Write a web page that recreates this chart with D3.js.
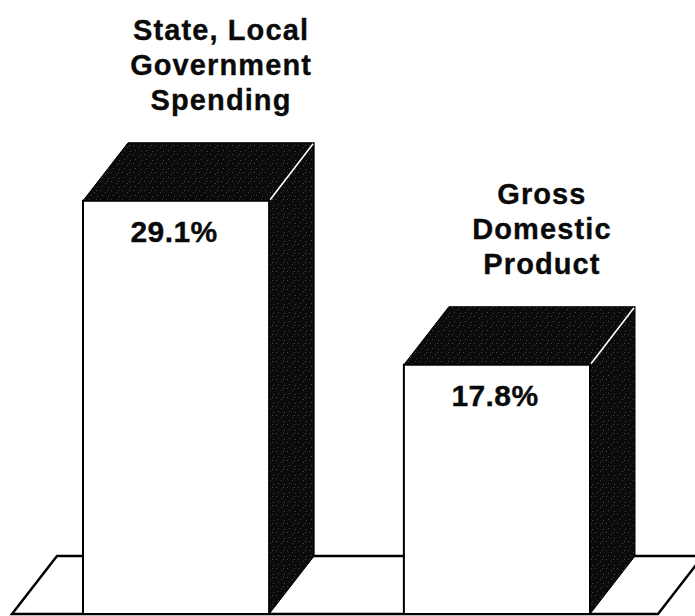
<!DOCTYPE html>
<html>
<head>
<meta charset="utf-8">
<script src="https://cdn.jsdelivr.net/npm/d3@7"></script>
<style>
  html, body { margin: 0; padding: 0; background: #fff; }
  svg { display: block; }
  text { font-family: "Liberation Sans", Arial, Helvetica, sans-serif; font-weight: bold; fill: #0a0a0a; stroke: #0a0a0a; stroke-width: 0.35px; }
</style>
</head>
<body>
<script>
// ---- data ----
const categories = ["State, Local Government Spending", "Gross Domestic Product"];
const categoryLines = [["State, Local", "Government", "Spending"], ["Gross", "Domestic", "Product"]];
const values = [29.1, 17.8];
const valueLabels = ["29.1%", "17.8%"];

// ---- layout ----
const W = 695, H = 616;
const floorFront = 614;          // front edge of the floor
const depthX = 45, depthY = -58; // 3D extrusion offset

const svg = d3.select("body").append("svg").attr("width", W).attr("height", H);

// speckle texture for dark faces
const defs = svg.append("defs");
const pat = defs.append("pattern").attr("id", "speck").attr("patternUnits", "userSpaceOnUse")
  .attr("width", 11).attr("height", 9);
pat.append("rect").attr("width", 11).attr("height", 9).attr("fill", "#0b0b0b");
[[1,1],[6,3],[3,6],[9,7],[8,1]].forEach(([cx, cy]) =>
  pat.append("rect").attr("x", cx).attr("y", cy).attr("width", 1).attr("height", 1).attr("fill", "#6a6a6a").attr("opacity", 0.6));

const x = d3.scaleBand().domain(categories).range([83, 590]).paddingInner(0.42).paddingOuter(0);
const y = d3.scaleLinear().domain([0, 30]).range([623, 623 - 30 * 14.51]);
const bw = x.bandwidth();

// floor
const [x0, x1] = x.range();
const floorPts = [
  [x0 - 71, floorFront], [x0 - 71 + depthX, floorFront + depthY],
  [x1 + 68 + depthX, floorFront + depthY], [x1 + 68, floorFront]
];
svg.append("polygon").attr("points", floorPts.map(p => p.join(",")).join(" "))
  .attr("fill", "#fff").attr("stroke", "#000").attr("stroke-width", 2.5).attr("stroke-linejoin", "miter");

const data = categories.map((c, i) => ({ c, v: values[i], lines: categoryLines[i], lab: valueLabels[i] }));
const g = svg.selectAll("g.bar").data(data).join("g").attr("class", "bar");

// side face
g.append("polygon").attr("points", d => {
  const xl = x(d.c), yt = y(d.v);
  return [[xl + bw, yt], [xl + bw + depthX, yt + depthY], [xl + bw + depthX, floorFront + depthY], [xl + bw, floorFront]]
    .map(p => p.join(",")).join(" ");
}).attr("fill", "url(#speck)").attr("stroke", "#000").attr("stroke-width", 1);

// top face
g.append("polygon").attr("points", d => {
  const xl = x(d.c), yt = y(d.v);
  return [[xl, yt], [xl + depthX, yt + depthY], [xl + bw + depthX, yt + depthY], [xl + bw, yt]]
    .map(p => p.join(",")).join(" ");
}).attr("fill", "url(#speck)").attr("stroke", "#000").attr("stroke-width", 1);

// white edge between top and side
g.append("line")
  .attr("x1", d => x(d.c) + bw + 1).attr("y1", d => y(d.v) - 1)
  .attr("x2", d => x(d.c) + bw + depthX - 1).attr("y2", d => y(d.v) + depthY + 1)
  .attr("stroke", "#fff").attr("stroke-width", 1.6);

// front face
g.append("rect")
  .attr("x", d => x(d.c)).attr("y", d => y(d.v))
  .attr("width", bw).attr("height", d => floorFront - y(d.v))
  .attr("fill", "#fff").attr("stroke", "#000").attr("stroke-width", 2);

// value labels
g.append("text")
  .attr("x", d => x(d.c) + bw / 2 - 2).attr("y", d => y(d.v) + 41)
  .attr("text-anchor", "middle").attr("font-size", 30).attr("letter-spacing", 0.4)
  .text(d => d.lab);

// category labels
const lineH = 35;
g.append("text")
  .attr("text-anchor", "middle").attr("font-size", 29).attr("letter-spacing", 1.1)
  .each(function (d) {
    const cx = x(d.c) + depthX + bw / 2;
    const lastBase = y(d.v) + depthY - 33;
    const n = d.lines.length;
    d3.select(this).selectAll("tspan").data(d.lines).join("tspan")
      .attr("x", cx).attr("y", (t, j) => lastBase - (n - 1 - j) * lineH)
      .text(t => t);
  });
</script>
</body>
</html>
